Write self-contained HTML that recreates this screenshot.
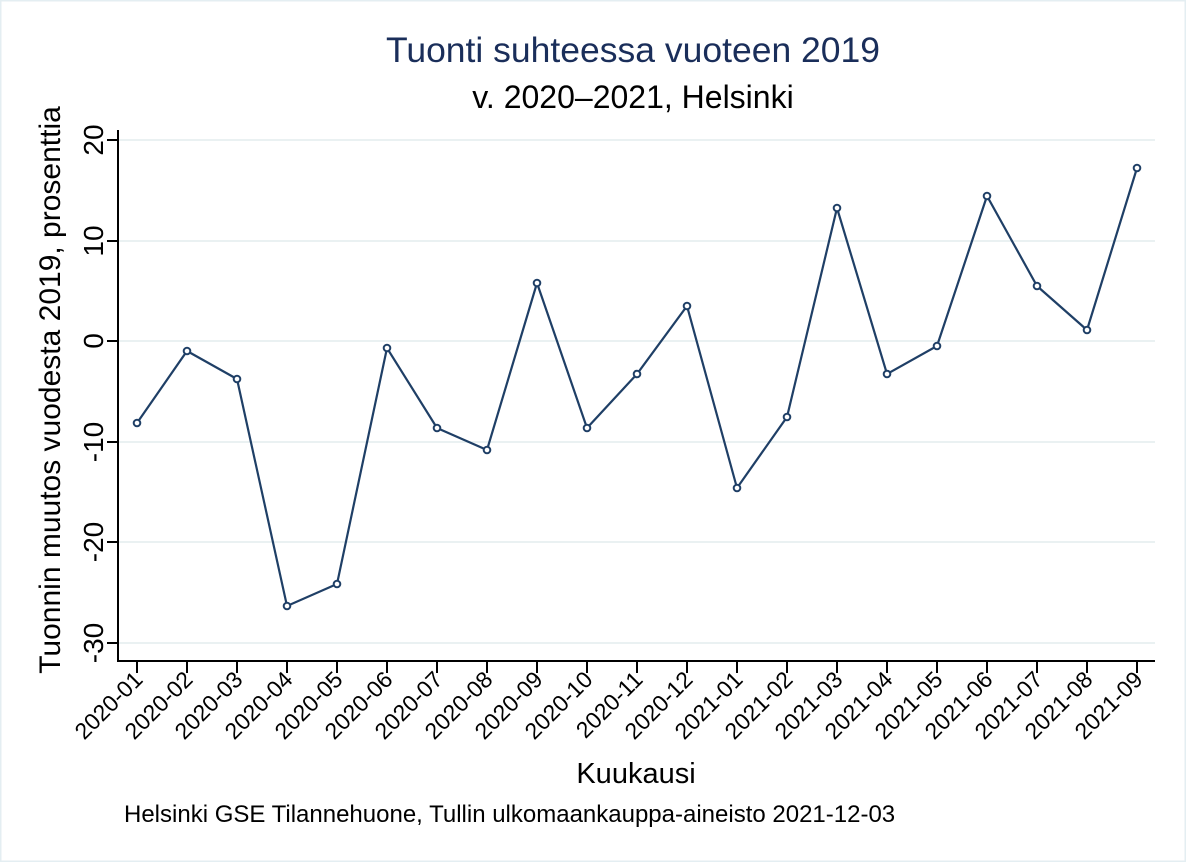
<!DOCTYPE html>
<html><head><meta charset="utf-8"><style>
html,body{margin:0;padding:0;background:#fff;}
svg{display:block;font-family:"Liberation Sans",Arial,sans-serif;}
</style></head><body>
<svg width="1186" height="862" viewBox="0 0 1186 862" xmlns="http://www.w3.org/2000/svg">
<rect x="0.5" y="0.5" width="1185" height="861" fill="#fff" stroke="#e4eef2" stroke-width="2"/>
<text x="633" y="62" font-size="35.5" fill="#1a2e5a" text-anchor="middle">Tuonti suhteessa vuoteen 2019</text>
<text x="633" y="108" font-size="32" fill="#000" text-anchor="middle">v. 2020–2021, Helsinki</text>
<g stroke="#eaf1f2" stroke-width="2">
<line x1="119" x2="1155" y1="140" y2="140"/><line x1="119" x2="1155" y1="241" y2="241"/>
<line x1="119" x2="1155" y1="341" y2="341"/><line x1="119" x2="1155" y1="442" y2="442"/>
<line x1="119" x2="1155" y1="542" y2="542"/><line x1="119" x2="1155" y1="643" y2="643"/>
</g>
<g stroke="#000" stroke-width="2" fill="none">
<polyline points="118,130 118,661 1155,661"/>
<line x1="107" x2="118" y1="140" y2="140"/><line x1="107" x2="118" y1="241" y2="241"/>
<line x1="107" x2="118" y1="341" y2="341"/><line x1="107" x2="118" y1="442" y2="442"/>
<line x1="107" x2="118" y1="542" y2="542"/><line x1="107" x2="118" y1="643" y2="643"/>
</g>
<g font-size="28" fill="#000" text-anchor="middle">
<text transform="translate(103,140) rotate(-90)">20</text>
<text transform="translate(103,241) rotate(-90)">10</text>
<text transform="translate(103,341) rotate(-90)">0</text>
<text transform="translate(103,442) rotate(-90)">-10</text>
<text transform="translate(103,542) rotate(-90)">-20</text>
<text transform="translate(103,643) rotate(-90)">-30</text>
<text transform="translate(60,390) rotate(-90)" font-size="30">Tuonnin muutos vuodesta 2019, prosenttia</text>
</g>
<g id="xt" stroke="#000" stroke-width="2"></g>
<g id="xl" font-size="23" fill="#000" text-anchor="end"></g>
<text x="636" y="783" font-size="29" text-anchor="middle">Kuukausi</text>
<text x="124" y="822" font-size="24">Helsinki GSE Tilannehuone, Tullin ulkomaankauppa-aineisto 2021-12-03</text>
<polyline id="ln" fill="none" stroke="#1f3f66" stroke-width="2.2"/>
<g id="mk" fill="#fff" stroke="#1f3f66" stroke-width="2"></g>
</svg>
<script>
var ys=[423,351,379,606,584,348,428,450,283,428,374,306,488,417,208,374,346,196,286,330,168];
var labs=[];for(var i=1;i<=12;i++)labs.push("2020-"+(i<10?"0":"")+i);for(var i=1;i<=9;i++)labs.push("2021-0"+i);
var ns="http://www.w3.org/2000/svg",pts=[];
ys.forEach(function(y,i){var x=137+50*i;pts.push(x+","+y);
var c=document.createElementNS(ns,"circle");c.setAttribute("cx",x);c.setAttribute("cy",y);c.setAttribute("r",3.3);document.getElementById("mk").appendChild(c);
var l=document.createElementNS(ns,"line");l.setAttribute("x1",x);l.setAttribute("x2",x);l.setAttribute("y1",661);l.setAttribute("y2",673);document.getElementById("xt").appendChild(l);
var t=document.createElementNS(ns,"text");t.setAttribute("transform","translate("+(x+7)+",681) rotate(-45)");t.textContent=labs[i];document.getElementById("xl").appendChild(t);});
document.getElementById("ln").setAttribute("points",pts.join(" "));
</script>
</body></html>
